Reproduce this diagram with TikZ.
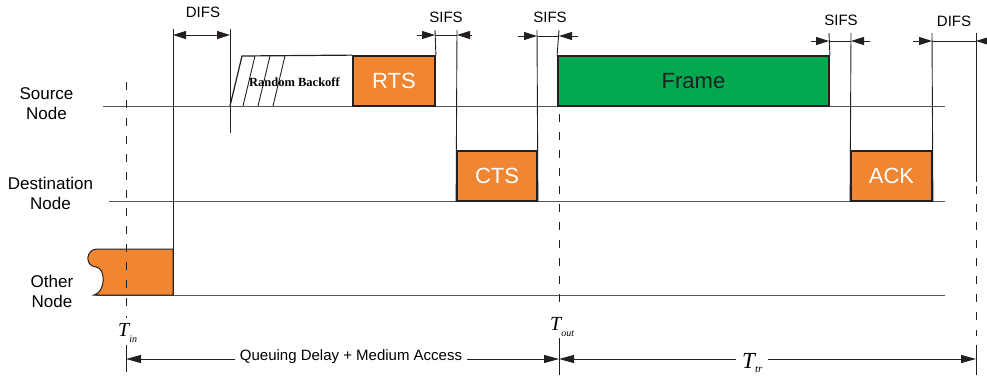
\documentclass[tikz,border=0pt]{standalone}
\usepackage{fontspec}
\setmainfont{Liberation Sans}
\newfontfamily\tms{Liberation Serif}
\usetikzlibrary{arrows.meta}
\definecolor{boxorange}{RGB}{240,133,50}
\definecolor{framegreen}{RGB}{0,168,80}
\definecolor{ink}{RGB}{35,31,32}
\definecolor{rulegray}{RGB}{85,85,85}
\begin{document}
\begin{tikzpicture}[x=1pt,y=-1pt,
  >={Triangle[length=13pt,width=8pt]},
  timeline/.style={draw=rulegray,line width=1pt},
  tickline/.style={draw=ink,line width=0.9pt},
  dashline/.style={draw=ink,line width=0.9pt,dash pattern=on 8pt off 10pt},
  slot/.style={draw=ink,line width=1.8pt,inner sep=0pt,minimum height=50pt,
    font=\fontsize{22}{22}\selectfont},
  gaplabel/.style={anchor=base,inner sep=0pt,font=\fontsize{15}{15}\selectfont},
  rowlabel/.style={anchor=base,inner sep=0pt,align=center,
    font=\fontsize{17}{20}\selectfont},
  span/.style={line width=0.9pt,draw=ink,{Triangle[length=15pt,width=8pt]}-{Triangle[length=15pt,width=8pt]}}
]
\useasboundingbox (0,0) rectangle (987,375);

% row labels (base anchor sits on the last line)
\node[rowlabel] (srclab) at (46.5,119) {Source\\Node};
\node[rowlabel] (dstlab) at (50.5,209) {Destination\\Node};
\node[rowlabel] (othlab) at (52,307) {Other\\Node};

% time lines of the three stations
\draw[timeline] (103,106) -- (945,106);
\draw[timeline] (109,201) -- (945,201);
\draw[timeline] (96,295) -- (945,295);

% ongoing transmission of another station
\filldraw[fill=boxorange,draw=ink,line width=1pt]
  (173,249) -- (97,249) .. controls (86,249) and (84,266) .. (96,267)
  .. controls (106,268) and (106,292) .. (94,295) -- (173,295) -- cycle;

% frame slots
\node[slot,fill=boxorange,text=white,minimum width=82pt] (rts) at (394,81) {RTS};
\node[slot,fill=boxorange,text=white,minimum width=80pt] (cts) at (497,176) {CTS};
\node[slot,fill=framegreen,text=ink,minimum width=271pt] (frame) at (693.5,81) {Frame};
\node[slot,fill=boxorange,text=white,minimum width=81pt] (ack) at (891.5,176) {ACK};

% random backoff window
\draw[ink,line width=1.2pt] (230,106) -- (242,56) -- (rts.north west);
\draw[ink,line width=0.9pt] (243,106) -- (255,56) (258,106) -- (270,56) (273,106) -- (285,56);
\node[anchor=base,inner sep=0pt,font=\tms\bfseries\fontsize{12.5}{12.5}\selectfont] (bo) at (294.5,86) {Random Backoff};

% interframe space boundaries
\coordinate (d1a) at (173,29);
\coordinate (d1b) at (230,29);
\coordinate (s1a) at (435,30);
\coordinate (s1b) at (457,30);
\coordinate (s2a) at (537,30);
\coordinate (s2b) at (559,30);
\coordinate (s3a) at (829,33);
\coordinate (s3b) at (851,33);
\coordinate (d2a) at (932,33);
\coordinate (d2b) at (976,33);

\draw[tickline] (d1a) -- (173,295);
\draw[tickline] (d1b) -- (230,133);
\draw[tickline] (s1a) -- (rts.north east);
\draw[tickline] (s1b) -- (cts.south west);
\draw[tickline] (s2a) -- (cts.south east);
\draw[tickline] (s2b) -- (frame.north west);
\draw[tickline] (s3a) -- (frame.north east);
\draw[tickline] (s3b) -- (ack.south west);
\draw[tickline] (d2a) -- (ack.south east);
\draw[tickline] (d2b) -- (976,182);

% interval arrows
\draw[tickline,<->] (173,35) -- (230,35);
\node[gaplabel] (difs1) at (203,17) {DIFS};

\draw[tickline] (435,35) -- (457,35);
\draw[tickline,->] (417,35) -- (435,35);
\draw[tickline,->] (472,35) -- (457,35);
\node[gaplabel] (sifs1) at (446,22) {SIFS};

\draw[tickline] (537,36) -- (559,36);
\draw[tickline,->] (518,36) -- (537,36);
\draw[tickline,->] (578,36) -- (559,36);
\node[gaplabel] (sifs2) at (550,22) {SIFS};

\draw[tickline] (829,41) -- (851,41);
\draw[tickline,->] (811,41) -- (829,41);
\draw[tickline,->] (870,41) -- (851,41);
\node[gaplabel] (sifs3) at (841,25) {SIFS};

\draw[tickline] (932,41) -- (976,41);
\draw[tickline,->] (913,41) -- (932,41);
\draw[tickline,->] (991,41) -- (976,41);
\node[gaplabel] (difs2) at (954,26) {DIFS};

% time instants
\draw[dashline] (126,82) -- (126,318);
\draw[dashline] (559,114) -- (559,310);
\draw[dashline] (976,186) -- (976,336);

\node[anchor=base west,inner sep=0pt] (tin) at (118,336)
  {\tms\itshape\fontsize{20}{20}\selectfont T\raisebox{-6pt}{\fontsize{10}{10}\selectfont in}};
\node[anchor=base west,inner sep=0pt] (tout) at (550,330)
  {\tms\itshape\fontsize{20}{20}\selectfont T\raisebox{-6pt}{\fontsize{10}{10}\selectfont out}};

\draw[tickline] (126,345) -- (126,372);
\draw[tickline] (559,338) -- (559,375);
\draw[tickline] (976,345) -- (976,375);

\draw[span] (126,359) -- (559,359);
\draw[span] (559,359) -- (976,359);
\node[anchor=base,fill=white,inner xsep=5pt,inner ysep=1pt,font=\fontsize{15}{15}\selectfont] (qd) at (351,360.5) {Queuing Delay + Medium Access};
\node[anchor=base west,fill=white,inner xsep=6pt,inner ysep=1pt] (ttr) at (736,368)
  {\tms\itshape\fontsize{23}{23}\selectfont T\raisebox{-4pt}{\fontsize{11}{11}\selectfont tr}};
\end{tikzpicture}
\end{document}
